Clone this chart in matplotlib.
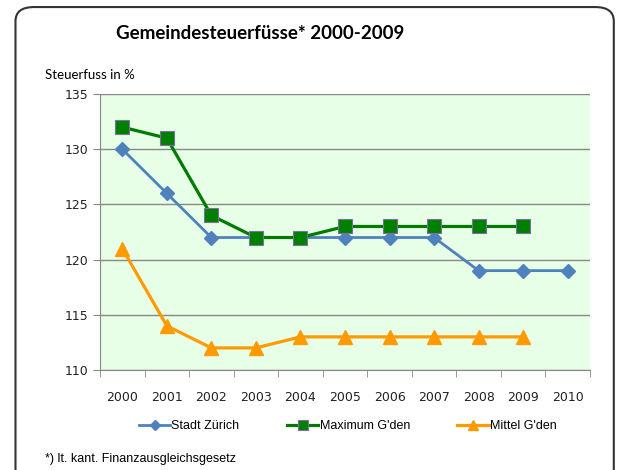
import matplotlib.pyplot as plt
from matplotlib.patches import FancyBboxPatch

years = ['2000', '2001', '2002', '2003', '2004', '2005', '2006', '2007', '2008', '2009', '2010']
stadt_zuerich = [130, 126, 122, 122, 122, 122, 122, 122, 119, 119, 119]
maximum_gden = [132, 131, 124, 122, 122, 123, 123, 123, 123, 123]
mittel_gden = [121, 114, 112, 112, 113, 113, 113, 113, 113, 113]

fig = plt.figure(figsize=(6.2, 4.7), dpi=100)

# rounded frame around the whole chart
frame = FancyBboxPatch((0.025, -0.05), 0.965, 1.035, boxstyle='round,pad=0,rounding_size=0.03',
                       transform=fig.transFigure, facecolor='white', edgecolor='#333333',
                       linewidth=1.5, zorder=-5)
fig.patches.append(frame)

ax = fig.add_axes([0.1613, 0.2128, 0.7903, 0.5872])
ax.set_facecolor('#E6FFE6')

ax.plot(range(len(stadt_zuerich)), stadt_zuerich, color='#4F81BD', lw=2,
        marker='D', ms=7, mfc='#4F81BD', mec='#4F81BD', label='Stadt Zürich', zorder=3)
ax.plot(range(len(maximum_gden)), maximum_gden, color='#007A00', lw=2.3,
        marker='s', ms=10, mfc='#008000', mec='#7F6FA0', mew=0.8, label="Maximum G'den", zorder=4)
ax.plot(range(len(mittel_gden)), mittel_gden, color='#FF9A00', lw=2.3,
        marker='^', ms=10, mfc='#FF9A00', mec='#FF9A00', label="Mittel G'den", zorder=3)

ax.set_ylim(110, 135)
ax.set_yticks([110, 115, 120, 125, 130, 135])
ax.set_xlim(-0.5, len(years) - 0.5)
ax.set_xticks(range(len(years)))
ax.set_xticklabels(years)
ax.set_xticks([i - 0.5 for i in range(len(years) + 1)], minor=True)
ax.tick_params(axis='x', which='major', length=0, pad=15, labelsize=9, colors='#222222')
ax.tick_params(axis='x', which='minor', length=5, color='#888888', direction='out')
ax.tick_params(axis='y', length=5, color='#888888', labelsize=9, labelcolor='#222222', pad=3)
ax.yaxis.grid(True, color='#888888', lw=1)
ax.set_axisbelow(True)
for s in ['top', 'right']:
    ax.spines[s].set_visible(False)
for s in ['left', 'bottom']:
    ax.spines[s].set_color('#888888')

fig.text(0.42, 0.928, 'Gemeindesteuerfüsse* 2000-2009', ha='center', va='center',
         fontsize=13.5, fontweight='bold', family='Lato')
fig.text(0.073, 0.84, 'Steuerfuss in %', ha='left', va='center', fontsize=9.5, family='Lato')
fig.text(0.073, 0.023, "*) lt. kant. Finanzausgleichsgesetz", ha='left', va='center', fontsize=9,
         family='Liberation Sans')

fig.legend(loc='center', bbox_to_anchor=(0.561, 0.093), ncol=3, frameon=False,
           prop={'family': 'Liberation Sans', 'size': 9},
           handlelength=2.5, columnspacing=3.8, handletextpad=0.1, markerscale=0.75)

fig.savefig('out.png', dpi=100)
